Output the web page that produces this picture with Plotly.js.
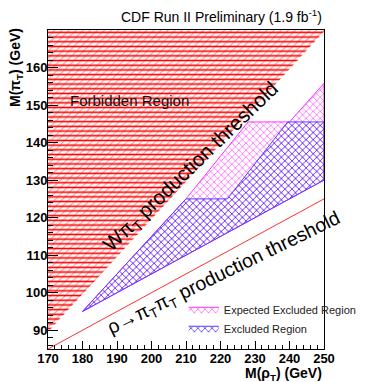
<!DOCTYPE html>
<html>
<head>
<meta charset="utf-8">
<script src="https://cdn.plot.ly/plotly-3.0.1.min.js"></script>
<style>html,body{margin:0;padding:0;background:#fff;}#chart{width:374px;height:382px;}</style>
</head>
<body>
<div id="chart"></div>
<script>
// Forbidden region: above the W+piT production threshold
const forbidX = [170, 250, 250, 170];
const forbidY = [89.6, 169.6, 170, 170];
// rho -> piT piT production threshold
const rhoThreshX = [170, 250];
const rhoThreshY = [85, 125];
// Expected excluded region
const expX = [180, 210, 228, 240, 250, 250, 180];
const expY = [95, 125, 145.5, 145.5, 155.8, 130, 95];
// Observed excluded region
const obsX = [180, 210, 222, 239.5, 250, 250, 180];
const obsY = [95, 125, 125, 145.5, 145.5, 130, 95];
// Tick labels
const xTicks = [170, 180, 190, 200, 210, 220, 230, 240, 250];
const yTicks = [90, 100, 110, 120, 130, 140, 150, 160];

const FONT = 'Liberation Sans, Arial, sans-serif';

const traces = [
  {x: forbidX, y: forbidY, type: 'scatter', mode: 'lines', fill: 'toself',
   fillcolor: 'rgba(0,0,0,0)', line: {width: 0, color: 'rgba(0,0,0,0)'},
   fillpattern: {shape: '/', fgcolor: 'rgba(255,70,70,0.5)', bgcolor: 'rgba(0,0,0,0)', size: 5, solidity: 0.22},
   showlegend: false, hoverinfo: 'skip'},
  {x: forbidX, y: forbidY, type: 'scatter', mode: 'lines', fill: 'toself',
   fillcolor: 'rgba(0,0,0,0)', line: {width: 0, color: 'rgba(0,0,0,0)'},
   fillpattern: {shape: '-', fgcolor: '#ff0000', bgcolor: 'rgba(0,0,0,0)', size: 4.7, solidity: 0.34},
   showlegend: false, hoverinfo: 'skip'},
  {x: rhoThreshX, y: rhoThreshY, type: 'scatter', mode: 'lines',
   line: {color: '#ff3030', width: 1}, showlegend: false, hoverinfo: 'skip'},
  {x: expX, y: expY, type: 'scatter', mode: 'lines', fill: 'toself', name: 'Expected Excluded Region',
   fillcolor: 'rgba(0,0,0,0)', line: {color: '#ff30ff', width: 1},
   fillpattern: {shape: 'x', fgcolor: '#ff50ff', bgcolor: 'rgba(0,0,0,0)', size: 5, solidity: 0.25}},
  {x: obsX, y: obsY, type: 'scatter', mode: 'lines', fill: 'toself', name: 'Excluded Region',
   fillcolor: 'rgba(0,0,0,0)', line: {color: '#5a3cff', width: 1},
   fillpattern: {shape: 'x', fgcolor: '#4a3aff', bgcolor: 'rgba(0,0,0,0)', size: 5, solidity: 0.28}}
];

const axisCommon = {
  showgrid: false, zeroline: false, showline: true, linecolor: '#000', linewidth: 1,
  mirror: true, ticks: 'inside', tickcolor: '#000', tickwidth: 1, tickmode: 'array',
  tickfont: {family: FONT, size: 13, color: '#000', weight: 'bold'}
};

const layout = {
  width: 374, height: 382,
  margin: {l: 48, r: 15, t: 30, b: 33},
  paper_bgcolor: '#fff', plot_bgcolor: '#fff',
  xaxis: Object.assign({}, axisCommon, {range: [170, 250], tickvals: xTicks, ticktext: xTicks.map(String),
                                        ticklen: 8, ticklabelstandoff: -3,
                                        minor: {ticks: 'inside', tick0: 170, dtick: 2, ticklen: 4, tickcolor: '#000', tickwidth: 1}}),
  yaxis: Object.assign({}, axisCommon, {range: [85, 170], tickvals: yTicks, ticktext: yTicks.map(String),
                                        ticklen: 10, ticklabelstandoff: -3,
                                        minor: {ticks: 'inside', tick0: 90, dtick: 2, ticklen: 5, tickcolor: '#000', tickwidth: 1}}),
  showlegend: true,
  legend: {x: 0.492, y: 0.17, xanchor: 'left', yanchor: 'top', bgcolor: 'rgba(0,0,0,0)',
           font: {family: FONT, size: 11, color: '#222'}, tracegroupgap: 0, itemwidth: 30},
  annotations: [
    {xref: 'paper', yref: 'paper', x: 1, y: 1, xanchor: 'right', yanchor: 'middle', yshift: 14,
     text: 'CDF Run II Preliminary (1.9 fb<sup>-1</sup>)', showarrow: false,
     font: {family: FONT, size: 14, color: '#000'}},
    {xref: 'paper', yref: 'paper', x: -0.116, y: 0.884, xanchor: 'center', yanchor: 'middle', textangle: -90,
     text: 'M(π<sub>T</sub>) (GeV)', showarrow: false,
     font: {family: FONT, size: 14, color: '#000', weight: 'bold'}},
    {xref: 'paper', yref: 'paper', x: 1, y: 0, xanchor: 'right', yanchor: 'middle', yshift: -25,
     text: 'M(ρ<sub>T</sub>) (GeV)', showarrow: false,
     font: {family: FONT, size: 14, color: '#000', weight: 'bold'}},
    {x: 193.5, y: 151.3, xref: 'x', yref: 'y', text: 'Forbidden Region', showarrow: false,
     font: {family: FONT, size: 15, color: '#111'}},
    {x: 211.5, y: 133.6, xref: 'x', yref: 'y', text: 'Wπ<sub>T</sub> production threshold', showarrow: false,
     textangle: -44, font: {family: FONT, size: 20.5, color: '#000'}},
    {x: 221, y: 105.0, xref: 'x', yref: 'y', text: 'ρ→π<sub>T</sub>π<sub>T</sub> production threshold', showarrow: false,
     textangle: -26, font: {family: FONT, size: 19.5, color: '#000'}}
  ]
};

Plotly.newPlot('chart', traces, layout, {displayModeBar: false, staticPlot: true});
</script>
</body>
</html>
